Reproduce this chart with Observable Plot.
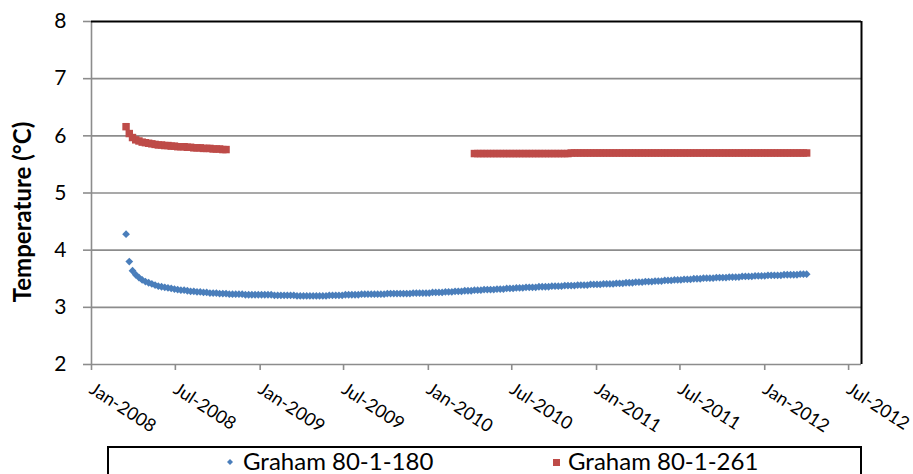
<!DOCTYPE html>
<html><head><meta charset="utf-8">
<script src="https://cdn.jsdelivr.net/npm/d3@7"></script>
<script src="https://cdn.jsdelivr.net/npm/@observablehq/plot@0.6"></script>
<style>
body{margin:0;background:#fff;font-family:Lato,sans-serif;}
#wrap{position:relative;width:913px;height:474px;overflow:hidden;background:#fff;}
#legend{position:absolute;left:107px;top:446px;width:755px;height:44px;box-sizing:border-box;border:2px solid #000;background:#fff;}
#legend .item{position:absolute;top:1px;font-size:24px;line-height:24px;color:#000;white-space:nowrap;}
#legend svg{position:absolute;}
</style>
</head><body><div id="wrap"><div id="chart"></div><div id="legend"></div></div>
<script>
const seriesNames = ["Graham 80-1-180", "Graham 80-1-261"];
const seriesColors = ["#4a7ebb", "#be4b48"];
const seriesSymbols = ["diamond2", "square"];
const yTitle = "Temperature (°C)";

// weekly readings
const stepDays = 7;
const blueStart = "2008-03-16";
const blueValues = [
  4.28, 3.80, 3.64, 3.57, 3.52, 3.48, 3.45, 3.43, 3.41, 3.39,
  3.37, 3.36, 3.35, 3.34, 3.33, 3.32, 3.31, 3.30, 3.30, 3.29,
  3.28, 3.28, 3.27, 3.27, 3.26, 3.26, 3.25, 3.25, 3.25, 3.24,
  3.24, 3.24, 3.23, 3.23, 3.23, 3.23, 3.23, 3.22, 3.22, 3.22,
  3.22, 3.22, 3.22, 3.22, 3.22, 3.22, 3.21, 3.21, 3.21, 3.21,
  3.21, 3.21, 3.21, 3.20, 3.20, 3.20, 3.20, 3.20, 3.20, 3.20,
  3.20, 3.20, 3.20, 3.21, 3.21, 3.21, 3.21, 3.21, 3.22, 3.22,
  3.22, 3.22, 3.22, 3.23, 3.23, 3.23, 3.23, 3.23, 3.23, 3.23,
  3.23, 3.24, 3.24, 3.24, 3.24, 3.24, 3.24, 3.24, 3.24, 3.25,
  3.25, 3.25, 3.25, 3.25, 3.25, 3.26, 3.26, 3.26, 3.26, 3.27,
  3.27, 3.27, 3.28, 3.28, 3.28, 3.29, 3.29, 3.29, 3.30, 3.30,
  3.30, 3.31, 3.31, 3.31, 3.31, 3.32, 3.32, 3.32, 3.33, 3.33,
  3.33, 3.34, 3.34, 3.34, 3.35, 3.35, 3.35, 3.35, 3.36, 3.36,
  3.36, 3.36, 3.37, 3.37, 3.37, 3.37, 3.38, 3.38, 3.38, 3.38,
  3.39, 3.39, 3.39, 3.39, 3.40, 3.40, 3.40, 3.40, 3.41, 3.41,
  3.41, 3.41, 3.42, 3.42, 3.42, 3.43, 3.43, 3.43, 3.44, 3.44,
  3.44, 3.45, 3.45, 3.45, 3.46, 3.46, 3.46, 3.47, 3.47, 3.47,
  3.48, 3.48, 3.48, 3.49, 3.49, 3.49, 3.50, 3.50, 3.50, 3.51,
  3.51, 3.51, 3.51, 3.52, 3.52, 3.52, 3.52, 3.53, 3.53, 3.53,
  3.53, 3.54, 3.54, 3.54, 3.54, 3.55, 3.55, 3.55, 3.55, 3.56,
  3.56, 3.56, 3.56, 3.56, 3.57, 3.57, 3.57, 3.57, 3.57, 3.58,
  3.58, 3.58
];
const redStart1 = "2008-03-16";
const redValues1 = [
  6.16, 6.04, 5.97, 5.93, 5.91, 5.89, 5.88, 5.87, 5.86, 5.85,
  5.84, 5.84, 5.83, 5.83, 5.82, 5.82, 5.81, 5.81, 5.81, 5.80,
  5.80, 5.79, 5.79, 5.79, 5.78, 5.78, 5.78, 5.77, 5.77, 5.77,
  5.76, 5.76
];
const redStart2 = "2010-04-11";
const redValues2 = [
  5.69, 5.69, 5.69, 5.69, 5.69, 5.69, 5.69, 5.69, 5.69, 5.69,
  5.69, 5.69, 5.69, 5.69, 5.69, 5.69, 5.69, 5.69, 5.69, 5.69,
  5.69, 5.69, 5.69, 5.69, 5.69, 5.69, 5.69, 5.69, 5.69, 5.69,
  5.70, 5.70, 5.70, 5.70, 5.70, 5.70, 5.70, 5.70, 5.70, 5.70,
  5.70, 5.70, 5.70, 5.70, 5.70, 5.70, 5.70, 5.70, 5.70, 5.70,
  5.70, 5.70, 5.70, 5.70, 5.70, 5.70, 5.70, 5.70, 5.70, 5.70,
  5.70, 5.70, 5.70, 5.70, 5.70, 5.70, 5.70, 5.70, 5.70, 5.70,
  5.70, 5.70, 5.70, 5.70, 5.70, 5.70, 5.70, 5.70, 5.70, 5.70,
  5.70, 5.70, 5.70, 5.70, 5.70, 5.70, 5.70, 5.70, 5.70, 5.70,
  5.70, 5.70, 5.70, 5.70, 5.70, 5.70, 5.70, 5.70, 5.70, 5.70,
  5.70, 5.70, 5.70, 5.70
];

const yTicks = [2, 3, 4, 5, 6, 7, 8];
const xTickDates = ["2008-01-01","2008-07-01","2009-01-01","2009-07-01","2010-01-01","2010-07-01","2011-01-01","2011-07-01","2012-01-01","2012-07-01"];
const xDomain = ["2008-01-01", "2012-07-29"];

function weekly(start, values, series) {
  const t0 = new Date(start);
  return values.map((v, i) => ({date: d3.utcDay.offset(t0, i * stepDays), value: v, series}));
}
const rows = [
  ...weekly(blueStart, blueValues, seriesNames[0]),
  ...weekly(redStart1, redValues1, seriesNames[1]),
  ...weekly(redStart2, redValues2, seriesNames[1])
];

const dom = xDomain.map(d => new Date(d));
const grid = "#8c8c8c";

const chart = Plot.plot({
  width: 913,
  height: 446,
  marginLeft: 91,
  marginRight: 52,
  marginTop: 21,
  marginBottom: 82,
  style: {fontFamily: "Lato, sans-serif", background: "white", overflow: "visible", color: "#000"},
  x: {type: "utc", domain: dom},
  y: {domain: [yTicks[0], yTicks[yTicks.length - 1]]},
  symbol: {domain: seriesNames, range: seriesSymbols},
  color: {domain: seriesNames, range: seriesColors},
  marks: [
    Plot.ruleY(yTicks.slice(0, -1), {stroke: grid, strokeWidth: 1.6}),
    Plot.ruleX([dom[0]], {stroke: grid, strokeWidth: 1.6}),
    Plot.ruleY([yTicks[yTicks.length - 1]], {stroke: "#000", strokeWidth: 2}),
    Plot.ruleX([dom[1]], {stroke: "#000", strokeWidth: 2}),
    Plot.axisY({ticks: yTicks, tickFormat: d3.format("d"), tickSize: 8, tickPadding: 17, fontSize: 21, stroke: grid, strokeWidth: 1.6, fill: "#000", label: null}),
    Plot.axisX({ticks: xTickDates.map(d => new Date(d)), tickFormat: d3.utcFormat("%b-%Y"), tickRotate: 33, tickSize: 6, tickPadding: 17, fontSize: 18, stroke: grid, strokeWidth: 1.6, fill: "#000", label: null}),
    Plot.dot(rows.filter(d => d.series === seriesNames[0]), {x: "date", y: "value", symbol: "series", fill: "series", stroke: null, r: 3.5}),
    Plot.dot(rows.filter(d => d.series === seriesNames[1]), {x: "date", y: "value", symbol: "series", fill: "series", stroke: null, r: 4.2}),
    Plot.text([yTitle], {frameAnchor: "left", textAnchor: "middle", rotate: -90, dx: -68, dy: 19, fontWeight: "bold", fontSize: 24, fill: "#000"})
  ]
});
document.getElementById("chart").appendChild(chart);

// legend
const legend = document.getElementById("legend");
const items = [
  {name: seriesNames[0], color: seriesColors[0], shape: "diamond", mx: 121, tx: 134},
  {name: seriesNames[1], color: seriesColors[1], shape: "square", mx: 447, tx: 459}
];
items.forEach(it => {
  const svg = d3.create("svg").attr("width", 12).attr("height", 12)
    .style("left", (it.mx - 6) + "px").style("top", (14 - 6) + "px");
  if (it.shape === "diamond") {
    svg.append("path").attr("d", "M6,3L9,6L6,9L3,6Z").attr("fill", it.color);
  } else {
    svg.append("rect").attr("x", 3).attr("y", 3).attr("width", 7).attr("height", 7).attr("fill", it.color);
  }
  legend.appendChild(svg.node());
  const span = document.createElement("span");
  span.className = "item";
  span.style.left = it.tx + "px";
  span.textContent = it.name;
  legend.appendChild(span);
});
</script>
</body></html>
